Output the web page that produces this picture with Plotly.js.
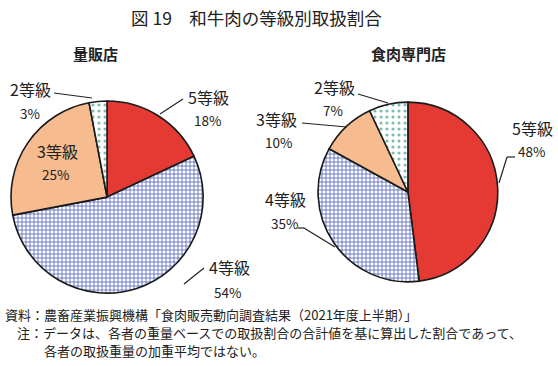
<!DOCTYPE html>
<html><head><meta charset="utf-8">
<script src="https://cdn.plot.ly/plotly-3.0.1.min.js"></script>
<style>body{margin:0;background:#fff}#c{width:558px;height:366px}</style>
</head><body><div id="c"></div>
<script>
const grades = ['5等級','4等級','3等級','2等級'];
const massRetail = [18, 54, 25, 3];      // 量販店
const meatShop = [48, 35, 10, 7];        // 食肉専門店
const groupNames = ['量販店','食肉専門店'];
const titleText = '図 19　和牛肉の等級別取扱割合';
const sourceText = '資料：農畜産業振興機構「食肉販売動向調査結果（2021年度上半期）」';
const noteLine1 = '注：データは、各者の重量ベースでの取扱割合の合計値を基に算出した割合であって、';
const noteLine2 = '各者の取扱重量の加重平均ではない。';

const F = '"Noto Sans CJK JP", "Noto Sans", sans-serif';
const marker = {
  colors: ['#e43a33', '#ffffff', '#f6bb8e', '#ffffff'],
  line: {color: '#1a1a1a', width: 1.6},
  pattern: {
    shape: ['', '+', '', '.'],
    fgcolor: ['#e43a33', '#4b5bb0', '#f6bb8e', '#7dbcae'],
    bgcolor: ['#e43a33', '#ffffff', '#f6bb8e', '#ffffff'],
    size: [6, 4, 6, 6],
    solidity: [0.3, 0.35, 0.3, 0.22],
    fillmode: 'replace'
  }
};
const pieBase = {type: 'pie', labels: grades, sort: false, direction: 'clockwise', rotation: 0,
  textinfo: 'none', hoverinfo: 'label+percent', showlegend: false, marker: marker};

const data = [
  Object.assign({}, pieBase, {values: massRetail, domain: {x: [0.0197, 0.364], y: [0.199, 0.724]}}),
  Object.assign({}, pieBase, {values: meatShop, domain: {x: [0.570, 0.892], y: [0.2295, 0.7213]}})
];

function lbl(x, y, t, anchor, size) {
  return {xref: 'paper', yref: 'paper', x: x/558, y: 1 - y/366, text: t, showarrow: false,
    xanchor: anchor || 'center', yanchor: 'middle', font: {family: F, size: size || 16, color: '#222'}};
}
function ln(x0, y0, x1, y1) {
  return {type: 'line', xref: 'paper', yref: 'paper', x0: x0/558, y0: 1 - y0/366, x1: x1/558, y1: 1 - y1/366,
    line: {color: '#222', width: 1.2}};
}
const pct = v => v + '%';
const P = 13.5;

const annotations = [
  lbl(256, 17, titleText, 'center', 17.5),
  lbl(95, 53, '<b>' + groupNames[0] + '</b>', 'center', 15),
  lbl(408, 53, '<b>' + groupNames[1] + '</b>', 'center', 15),
  // left pie
  lbl(208, 97, grades[0]), lbl(207, 120, pct(massRetail[0]), 'center', P),
  lbl(229, 267, grades[1]), lbl(227, 292, pct(massRetail[1]), 'center', P),
  lbl(57, 151, grades[2]), lbl(55, 174, pct(massRetail[2]), 'center', P),
  lbl(30, 89, grades[3]), lbl(30, 113, pct(massRetail[3]), 'center', P),
  // right pie
  lbl(532, 128, grades[0]), lbl(531, 151, pct(meatShop[0]), 'center', P),
  lbl(285, 199, grades[1]), lbl(284, 223, pct(meatShop[1]), 'center', P),
  lbl(276, 119, grades[2]), lbl(278, 142, pct(meatShop[2]), 'center', P),
  lbl(335, 87, grades[3]), lbl(333, 110, pct(meatShop[3]), 'center', P),
  // footer
  {xref: 'paper', yref: 'paper', x: 3/558, y: 1 - 314/366, text: sourceText, showarrow: false, xanchor: 'left', yanchor: 'middle', font: {family: F, size: 13, color: '#222'}},
  {xref: 'paper', yref: 'paper', x: 15/558, y: 1 - 332/366, text: noteLine1, showarrow: false, xanchor: 'left', yanchor: 'middle', font: {family: F, size: 13, color: '#222'}},
  {xref: 'paper', yref: 'paper', x: 42/558, y: 1 - 350/366, text: noteLine2, showarrow: false, xanchor: 'left', yanchor: 'middle', font: {family: F, size: 13, color: '#222'}}
];

const shapes = [
  ln(54, 93, 92, 98),
  ln(183, 99, 160, 114),
  ln(204, 268, 184, 284),
  ln(358, 94, 388, 103),
  ln(302, 123, 347, 127),
  ln(515, 157, 507, 157), ln(507, 157, 499, 183),
  ln(298, 228, 304, 228), ln(304, 228, 335, 247)
];

Plotly.newPlot('c', data, {
  width: 558, height: 366, margin: {l: 0, r: 0, t: 0, b: 0},
  paper_bgcolor: '#fff', plot_bgcolor: '#fff', annotations: annotations, shapes: shapes
}, {staticPlot: true});
</script></body></html>
